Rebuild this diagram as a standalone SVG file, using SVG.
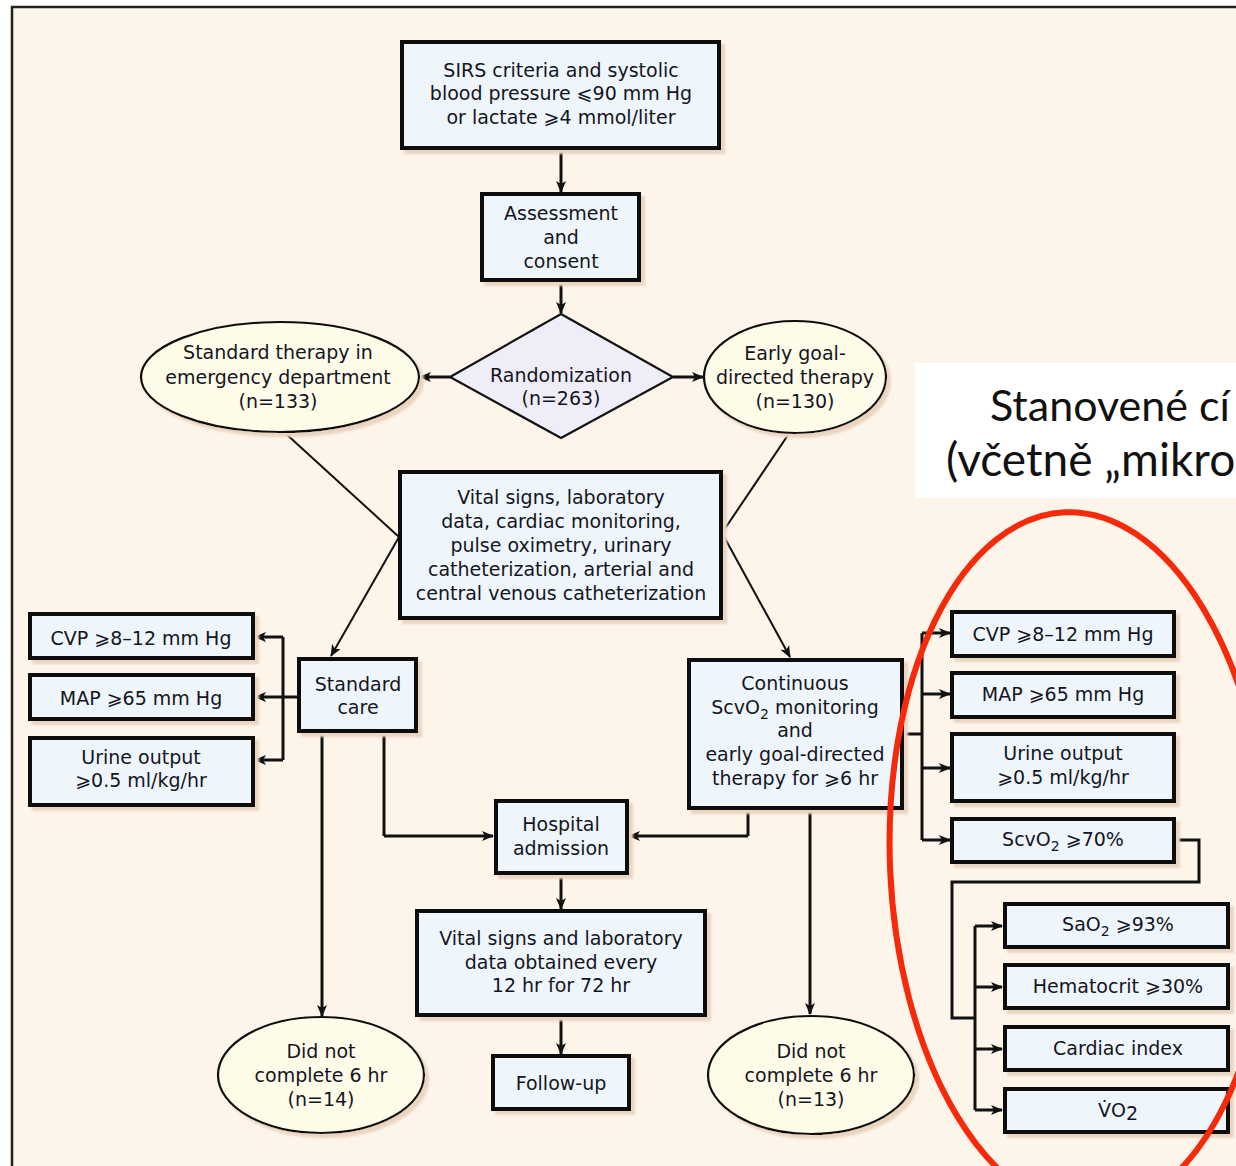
<svg xmlns="http://www.w3.org/2000/svg" width="1236" height="1166" viewBox="0 0 1236 1166">
<defs>
<marker id="ah" viewBox="0 0 12 10" refX="11" refY="5" markerWidth="12" markerHeight="10" markerUnits="userSpaceOnUse" orient="auto">
<path d="M0,0 L12,5 L0,10 L3,5 z" fill="#111"/>
</marker>
<filter id="sh" x="-5%" y="-5%" width="115%" height="120%">
<feDropShadow dx="4" dy="4" stdDeviation="0.8" flood-color="#ead5c0" flood-opacity="1"/>
</filter>
<style>
.bx{fill:#eef6fb;stroke:#111;stroke-width:4;filter:url(#sh)}
.el{fill:#fefbe8;stroke:#111;stroke-width:2.2;filter:url(#sh)}
.dm{fill:#efedf7;stroke:#111;stroke-width:2.2}
.t{font-family:"DejaVu Sans","Liberation Sans",sans-serif;font-size:19px;fill:#15151f;text-anchor:middle}
.c{fill:none;stroke:#111;stroke-width:3}
.d{fill:none;stroke:#111;stroke-width:2}
.ca{font-family:Lato,"Open Sans",sans-serif;font-size:43px;fill:#111}
.ca2{font-size:46px}
</style>
</defs>
<rect x="0" y="0" width="1236" height="1166" fill="#ffffff"/>
<rect x="12" y="7" width="1240" height="1180" fill="#fdf4ea" stroke="#222" stroke-width="2.5"/>

<g id="connectors">
<line class="c" x1="561" y1="149" x2="561" y2="192" marker-end="url(#ah)"/>
<line class="c" x1="561" y1="281" x2="561" y2="313" marker-end="url(#ah)"/>
<line class="c" x1="450" y1="377" x2="420" y2="377" marker-end="url(#ah)"/>
<line class="c" x1="673" y1="377" x2="703" y2="377" marker-end="url(#ah)"/>
<polyline class="d" points="284,432 399,537"/>
<line class="d" x1="399" y1="537" x2="331" y2="656" marker-end="url(#ah)"/>
<polyline class="d" points="790,432 722,533"/>
<line class="d" x1="722" y1="533" x2="790" y2="657" marker-end="url(#ah)"/>
<line class="c" x1="298" y1="697" x2="255" y2="697" marker-end="url(#ah)"/>
<polyline class="c" points="283,637 283,760"/>
<line class="c" x1="283" y1="637" x2="255" y2="637" marker-end="url(#ah)"/>
<line class="c" x1="283" y1="760" x2="255" y2="760" marker-end="url(#ah)"/>
<polyline class="c" points="903,734 922,734"/>
<polyline class="c" points="922,633 922,840"/>
<line class="c" x1="922" y1="633" x2="950" y2="633" marker-end="url(#ah)"/>
<line class="c" x1="922" y1="694" x2="950" y2="694" marker-end="url(#ah)"/>
<line class="c" x1="922" y1="768" x2="950" y2="768" marker-end="url(#ah)"/>
<line class="c" x1="922" y1="840" x2="950" y2="840" marker-end="url(#ah)"/>
<polyline class="c" points="1175,840 1199,840 1199,882 952,882 952,1018 975,1018"/>
<polyline class="c" points="975,926 975,1110"/>
<line class="c" x1="975" y1="926" x2="1002" y2="926" marker-end="url(#ah)"/>
<line class="c" x1="975" y1="987" x2="1002" y2="987" marker-end="url(#ah)"/>
<line class="c" x1="975" y1="1049" x2="1002" y2="1049" marker-end="url(#ah)"/>
<line class="c" x1="975" y1="1110" x2="1002" y2="1110" marker-end="url(#ah)"/>
<line class="c" x1="322" y1="731" x2="322" y2="1016" marker-end="url(#ah)"/>
<polyline class="c" points="384,731 384,836"/>
<line class="c" x1="384" y1="836" x2="493" y2="836" marker-end="url(#ah)"/>
<polyline class="c" points="748,808 748,836"/>
<line class="c" x1="748" y1="836" x2="629" y2="836" marker-end="url(#ah)"/>
<line class="c" x1="810" y1="808" x2="810" y2="1014" marker-end="url(#ah)"/>
<line class="c" x1="561" y1="873" x2="561" y2="909" marker-end="url(#ah)"/>
<line class="c" x1="561" y1="1015" x2="561" y2="1054" marker-end="url(#ah)"/>
</g>

<g id="n-sirs"><rect class="bx" x="402" y="42" width="317" height="106"/>
<text class="t" x="561" y="77">SIRS criteria and systolic</text>
<text class="t" x="561" y="100">blood pressure ⩽90 mm Hg</text>
<text class="t" x="561" y="124">or lactate ⩾4 mmol/liter</text></g>

<g id="n-assess"><rect class="bx" x="482" y="194" width="157" height="86"/>
<text class="t" x="561" y="220">Assessment</text>
<text class="t" x="561" y="244">and</text>
<text class="t" x="561" y="268">consent</text></g>

<g id="n-random"><polygon class="dm" points="561,314 673,377 561,438 450,377"/>
<text class="t" x="561" y="382">Randomization</text>
<text class="t" x="561" y="405">(n=263)</text></g>

<g id="n-std-ed"><ellipse class="el" cx="280" cy="377" rx="139" ry="55"/>
<text class="t" x="278" y="359">Standard therapy in</text>
<text class="t" x="278" y="384">emergency department</text>
<text class="t" x="278" y="408">(n=133)</text></g>

<g id="n-egdt"><ellipse class="el" cx="795" cy="377" rx="91" ry="56"/>
<text class="t" x="795" y="360">Early goal-</text>
<text class="t" x="795" y="384">directed therapy</text>
<text class="t" x="795" y="408">(n=130)</text></g>

<g id="n-note"><rect x="915" y="363" width="330" height="135" fill="#ffffff"/>
<text class="ca" x="990" y="421">Stanovené cí</text>
<text class="ca ca2" x="946" y="476">(včetně „mikro</text></g>

<g id="n-vital"><rect class="bx" x="400" y="472" width="321" height="146"/>
<text class="t" x="561" y="504">Vital signs, laboratory</text>
<text class="t" x="561" y="528">data, cardiac monitoring,</text>
<text class="t" x="561" y="552">pulse oximetry, urinary</text>
<text class="t" x="561" y="576">catheterization, arterial and</text>
<text class="t" x="561" y="600">central venous catheterization</text></g>

<g id="n-stdcare"><rect class="bx" x="299" y="659" width="117" height="72"/>
<text class="t" x="358" y="691">Standard</text>
<text class="t" x="358" y="714">care</text></g>

<g id="n-l-cvp"><rect class="bx" x="30" y="614" width="223" height="44"/>
<text class="t" x="141" y="645">CVP ⩾8–12 mm Hg</text></g>
<g id="n-l-map"><rect class="bx" x="30" y="675" width="223" height="44"/>
<text class="t" x="141" y="705">MAP ⩾65 mm Hg</text></g>
<g id="n-l-urine"><rect class="bx" x="30" y="738" width="223" height="67"/>
<text class="t" x="141" y="764">Urine output</text>
<text class="t" x="141" y="787">⩾0.5 ml/kg/hr</text></g>

<g id="n-cont"><rect class="bx" x="689" y="660" width="213" height="148"/>
<text class="t" x="795" y="690">Continuous</text>
<text class="t" x="795" y="714">ScvO<tspan font-size="14" dy="5">2</tspan><tspan dy="-5"> monitoring</tspan></text>
<text class="t" x="795" y="737">and</text>
<text class="t" x="795" y="761">early goal-directed</text>
<text class="t" x="795" y="785">therapy for ⩾6 hr</text></g>

<g id="n-r-cvp"><rect class="bx" x="952" y="612" width="222" height="44"/>
<text class="t" x="1063" y="641">CVP ⩾8–12 mm Hg</text></g>
<g id="n-r-map"><rect class="bx" x="952" y="673" width="222" height="44"/>
<text class="t" x="1063" y="701">MAP ⩾65 mm Hg</text></g>
<g id="n-r-urine"><rect class="bx" x="952" y="734" width="222" height="67"/>
<text class="t" x="1063" y="760">Urine output</text>
<text class="t" x="1063" y="784">⩾0.5 ml/kg/hr</text></g>
<g id="n-r-scvo2"><rect class="bx" x="952" y="819" width="222" height="43"/>
<text class="t" x="1063" y="846">ScvO<tspan font-size="14" dy="5">2</tspan><tspan dy="-5"> ⩾70%</tspan></text></g>

<g id="n-sao2"><rect class="bx" x="1005" y="904" width="223" height="43"/>
<text class="t" x="1118" y="931">SaO<tspan font-size="14" dy="5">2</tspan><tspan dy="-5"> ⩾93%</tspan></text></g>
<g id="n-hct"><rect class="bx" x="1005" y="965" width="223" height="43"/>
<text class="t" x="1118" y="993">Hematocrit ⩾30%</text></g>
<g id="n-ci"><rect class="bx" x="1005" y="1027" width="223" height="43"/>
<text class="t" x="1118" y="1055">Cardiac index</text></g>
<g id="n-vo2"><rect class="bx" x="1005" y="1089" width="223" height="43"/>
<text class="t" x="1118" y="1117">V̇O<tspan dy="3">2</tspan></text></g>

<g id="n-hosp"><rect class="bx" x="496" y="801" width="131" height="72"/>
<text class="t" x="561" y="831">Hospital</text>
<text class="t" x="561" y="855">admission</text></g>

<g id="n-vital2"><rect class="bx" x="417" y="911" width="288" height="104"/>
<text class="t" x="561" y="945">Vital signs and laboratory</text>
<text class="t" x="561" y="969">data obtained every</text>
<text class="t" x="561" y="992">12 hr for 72 hr</text></g>

<g id="n-follow"><rect class="bx" x="493" y="1056" width="136" height="53"/>
<text class="t" x="561" y="1090">Follow-up</text></g>

<g id="n-dnc-l"><ellipse class="el" cx="321" cy="1075" rx="103" ry="58"/>
<text class="t" x="321" y="1058">Did not</text>
<text class="t" x="321" y="1082">complete 6 hr</text>
<text class="t" x="321" y="1106">(n=14)</text></g>

<g id="n-dnc-r"><ellipse class="el" cx="811" cy="1075" rx="103" ry="59"/>
<text class="t" x="811" y="1058">Did not</text>
<text class="t" x="811" y="1082">complete 6 hr</text>
<text class="t" x="811" y="1106">(n=13)</text></g>

<ellipse id="n-redring" cx="1080" cy="862" rx="190" ry="350" fill="none" stroke="#f52a0a" stroke-width="6" transform="rotate(-2.5 1080 862)"/>
</svg>
